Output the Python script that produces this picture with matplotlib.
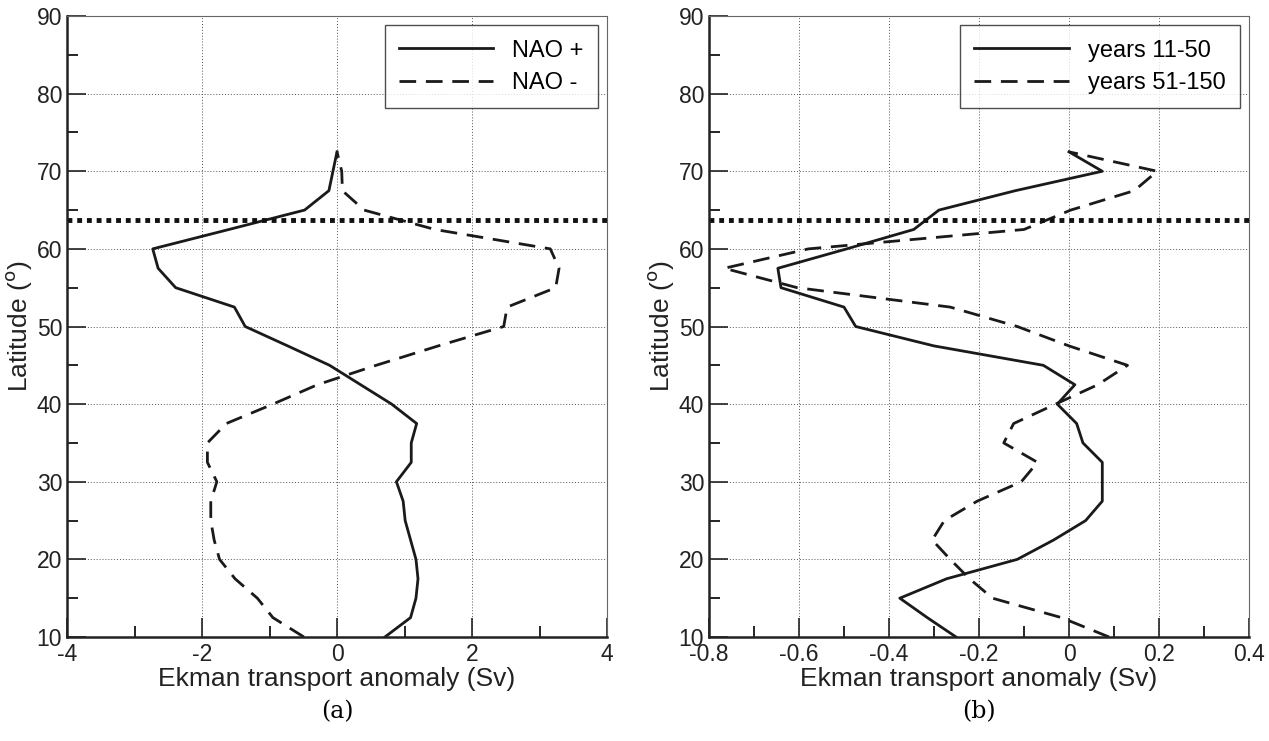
import matplotlib
matplotlib.use('Agg')
import matplotlib.pyplot as plt
import numpy as np
from matplotlib.ticker import MultipleLocator, FormatStrFormatter

# latitudes (deg), 10 -> 72.5 every 2.5
lat = [10, 12.5, 15, 17.5, 20, 22.5, 25, 27.5, 30, 32.5, 35, 37.5, 40,
       42.5, 45, 47.5, 50, 52.5, 55, 57.5, 60, 62.5, 65, 67.5, 70, 72.5]

# panel (a) : NAO composites (Sv)
nao_pos = [0.71, 1.09, 1.17, 1.20, 1.17, 1.09, 1.01, 0.98, 0.88, 1.10, 1.10, 1.18, 0.81,
           0.35, -0.11, -0.73, -1.36, -1.52, -2.39, -2.65, -2.73, -1.60, -0.48, -0.12, -0.06, 0.0]
nao_neg = [-0.49, -0.95, -1.18, -1.51, -1.74, -1.82, -1.87, -1.87, -1.78, -1.92, -1.92, -1.64, -0.95,
           -0.29, 0.58, 1.50, 2.47, 2.52, 3.24, 3.29, 3.16, 1.45, 0.40, 0.08, 0.07, 0.0]

# panel (b) : two periods (Sv)
yrs_early = [-0.251, -0.315, -0.376, -0.272, -0.115, -0.034, 0.037, 0.074, 0.074, 0.074, 0.031, 0.017, -0.026,
             0.013, -0.057, -0.30, -0.474, -0.50, -0.64, -0.647, -0.494, -0.345, -0.289, -0.119, 0.074, 0.0]
yrs_late = [0.089, -0.017, -0.17, -0.221, -0.264, -0.304, -0.277, -0.204, -0.106, -0.07, -0.145, -0.123, -0.03,
            0.064, 0.13, 0.0, -0.115, -0.264, -0.604, -0.766, -0.579, -0.10, 0.004, 0.145, 0.196, 0.0]

sill_lat = 63.7

panels = [
    dict(a=nao_pos, b=nao_neg, labels=['NAO +', 'NAO -'], xlim=(-4, 4), major=2, minor=1, tag='(a)'),
    dict(a=yrs_early, b=yrs_late, labels=['years 11-50', 'years 51-150'], xlim=(-0.8, 0.4),
         major=0.2, minor=0.1, tag='(b)'),
]

plt.rcParams['font.family'] = ['Liberation Sans', 'DejaVu Sans']

fig = plt.figure(figsize=(12.69, 7.41), dpi=100)
lefts = [67 / 1269, 709 / 1269]
for p, x0 in zip(panels, lefts):
    ax = fig.add_axes([x0, 104 / 741, 540 / 1269, 621 / 741])
    ax.plot(p['a'], lat, color='#1a1a1a', lw=2.0, ls='-', label=p['labels'][0])
    ax.plot(p['b'], lat, color='#1a1a1a', lw=2.0, ls=(0, (6, 3.5)), label=p['labels'][1])
    ax.axhline(sill_lat, color='#111111', lw=3.5, ls=(0, (1, 1)))
    ax.set_xlim(*p['xlim'])
    ax.set_ylim(10, 90)
    ax.xaxis.set_major_locator(MultipleLocator(p['major']))
    ax.xaxis.set_minor_locator(MultipleLocator(p['minor']))
    ax.yaxis.set_major_locator(MultipleLocator(10))
    ax.yaxis.set_minor_locator(MultipleLocator(5))
    ax.xaxis.set_major_formatter(FormatStrFormatter('%g'))
    ax.tick_params(which='major', direction='in', length=14, width=1.2, labelsize=16.5, colors='#222222')
    ax.tick_params(axis='x', which='major', pad=4)
    ax.tick_params(which='minor', direction='in', length=8, width=1.2)
    ax.tick_params(top=False, right=False, which='both')
    ax.grid(True, which='major', color='#555555', ls=(0, (1, 2)), lw=0.7)
    for s in ['left', 'bottom']:
        ax.spines[s].set_linewidth(1.8)
        ax.spines[s].set_color('#222222')
    for s in ['top', 'right']:
        ax.spines[s].set_linewidth(0.8)
        ax.spines[s].set_color('#666666')
    ax.set_xlabel('Ekman transport anomaly (Sv)', fontsize=19, color='#222222', labelpad=1)
    ax.set_ylabel(r'Latitude ($^{\rm o}$)', fontsize=19, color='#222222', labelpad=2)
    leg = ax.legend(loc='upper right', fontsize=17, frameon=True, fancybox=False, handlelength=4.0,
                    borderpad=0.6, labelspacing=0.45, handletextpad=0.8, borderaxespad=0.4)
    leg.get_frame().set_edgecolor('#222222')
    leg.get_frame().set_linewidth(1.0)
    ax.text(0.5, -0.121, p['tag'], transform=ax.transAxes, ha='center', va='center',
            fontsize=17, family='DejaVu Serif')

fig.savefig('out.png', dpi=100)
